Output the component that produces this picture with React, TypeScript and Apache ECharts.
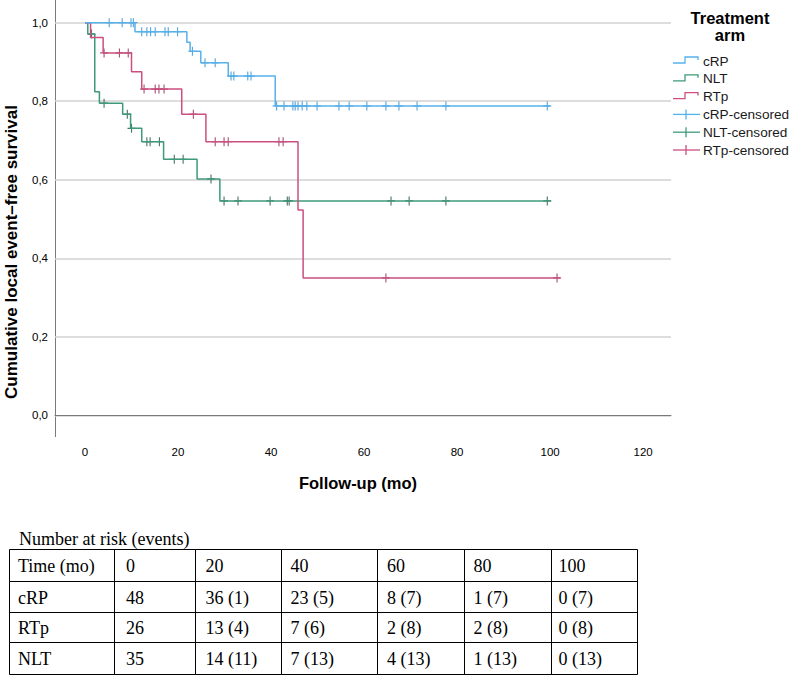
import React, { useEffect, useRef } from "react";
import * as echarts from "echarts";

// ---------- data ----------
const xTickValues = [0, 20, 40, 60, 80, 100, 120];

// cRP arm: event times and Kaplan-Meier survival after each step
const cRPTimes = [0, 10.75, 21.9, 22.6, 24.9, 30.8, 40.9, 100.0];
const cRPSurv = [1.0, 0.977, 0.95, 0.927, 0.898, 0.864, 0.788, 0.788];
const cRPCensored = [5.2, 8.0, 9.9, 10.4, 12.2, 13.3, 14.1, 15.1, 17.2, 17.9, 19.9, 23.1, 25.8, 28.0, 31.4, 32.0, 35.0, 35.7, 41.2, 42.8, 44.7, 45.2, 45.8, 46.7, 47.7, 49.9, 54.6, 56.8, 60.6, 64.7, 67.5, 71.4, 77.6, 99.4];

// NLT arm
const NLTTimes = [0, 0.6, 2.1, 3.1, 8.1, 9.8, 12.2, 16.9, 24.1, 29.0, 100.2];
const NLTSurv = [1.0, 0.971, 0.824, 0.795, 0.767, 0.731, 0.697, 0.652, 0.602, 0.546, 0.546];
const NLTCensored = [1.4, 4.1, 9.1, 10.0, 13.3, 14.0, 16.0, 19.2, 21.1, 27.1, 29.9, 32.9, 39.8, 43.5, 43.9, 65.8, 69.7, 77.6, 99.4];

// RTp arm
const RTpTimes = [0, 1.2, 3.9, 10.0, 12.2, 20.8, 26.0, 45.8, 46.9, 102.2];
const RTpSurv = [1.0, 0.962, 0.923, 0.875, 0.831, 0.767, 0.697, 0.523, 0.35, 0.35];
const RTpCensored = [4.1, 7.4, 9.3, 12.7, 15.1, 15.9, 17.0, 23.3, 28.0, 29.9, 30.8, 41.7, 42.6, 64.7, 101.5];

// Number-at-risk table
const tableTimes = [0, 20, 40, 60, 80, 100];
const cRPAtRisk = [48, 36, 23, 8, 1, 0];
const cRPEvents = [null, 1, 5, 7, 7, 7];
const RTpAtRisk = [26, 13, 7, 2, 2, 0];
const RTpEvents = [null, 4, 6, 8, 8, 8];
const NLTAtRisk = [35, 14, 7, 4, 1, 0];
const NLTEvents = [null, 11, 13, 13, 13, 13];

// ---------- helpers ----------
const pairs = (t: number[], s: number[]) => t.map((v, i) => [v, s[i]]);
const survAt = (t: number[], s: number[], x: number) => {
  let v = s[0];
  for (let i = 0; i < t.length; i++) if (t[i] <= x) v = s[i];
  return v;
};
const censorPts = (c: number[], t: number[], s: number[]) => c.map((x) => [x, survAt(t, s, x)]);

const COL = {
  cRP: "#55b2ea",
  cRPm: "#2f8ed3",
  NLT: "#3f9a7a",
  NLTm: "#1f5247",
  RTp: "#cc4f80",
  RTpm: "#8e2a58",
};

const plusSymbol = "path://M5,0 L5,10 M0,5 L10,5";

export default function App() {
  const ref = useRef<HTMLDivElement>(null);
  useEffect(() => {
    if (!ref.current) return;
    const chart = echarts.init(ref.current, null, { renderer: "svg" });

    const gridLeft = 55;
    const gridTop = 22.7;
    const gridW = 616;
    const gridH = 392.6;

    const lineSeries = (name: string, t: number[], s: number[], color: string) => ({
      name,
      type: "line",
      step: "end",
      data: pairs(t, s),
      showSymbol: false,
      symbol: "none",
      lineStyle: { color, width: 1.5 },
      itemStyle: { color },
      silent: true,
    });
    const censSeries = (name: string, c: number[], t: number[], s: number[], color: string) => ({
      name,
      type: "scatter",
      data: censorPts(c, t, s),
      symbol: plusSymbol,
      symbolSize: [8, 9],
      itemStyle: { color: "rgba(0,0,0,0)", borderColor: color, borderWidth: 1.2 },
      silent: true,
    });

    const graphics: any[] = [];
    // y axis line
    graphics.push({
      type: "line",
      shape: { x1: 55.5, y1: 0, x2: 55.5, y2: 437 },
      style: { stroke: "#7a7a7a", lineWidth: 1 },
    });
    // axis titles
    graphics.push({
      type: "text",
      x: 11,
      y: 252,
      rotation: Math.PI / 2,
      style: {
        text: "Cumulative local event–free survival",
        font: 'bold 17px "Liberation Sans", Arial, sans-serif',
        fill: "#000",
        align: "center",
        verticalAlign: "middle",
      },
    });
    graphics.push({
      type: "text",
      x: 358,
      y: 483,
      style: {
        text: "Follow-up (mo)",
        font: 'bold 16.5px "Liberation Sans", Arial, sans-serif',
        fill: "#000",
        align: "center",
        verticalAlign: "middle",
      },
    });
    // legend
    graphics.push({
      type: "text",
      x: 730,
      y: 17.5,
      style: { text: "Treatment", font: 'bold 16.5px "Liberation Sans", Arial, sans-serif', fill: "#000", align: "center", verticalAlign: "middle" },
    });
    graphics.push({
      type: "text",
      x: 730,
      y: 35,
      style: { text: "arm", font: 'bold 16.5px "Liberation Sans", Arial, sans-serif', fill: "#000", align: "center", verticalAlign: "middle" },
    });
    const legendItems = [
      { label: "cRP", color: COL.cRP, kind: "step" },
      { label: "NLT", color: COL.NLT, kind: "step" },
      { label: "RTp", color: COL.RTp, kind: "step" },
      { label: "cRP-censored", color: COL.cRP, kind: "cens" },
      { label: "NLT-censored", color: COL.NLT, kind: "cens" },
      { label: "RTp-censored", color: COL.RTp, kind: "cens" },
    ];
    legendItems.forEach((it, i) => {
      const y = 61 + 17.8 * i;
      if (it.kind === "step") {
        graphics.push({
          type: "polyline",
          shape: { points: [[673, y + 2], [685, y + 2], [685, y - 4], [698, y - 4], [698, y - 1]] },
          style: { stroke: it.color, lineWidth: 1.3, fill: null },
        });
      } else {
        graphics.push({ type: "line", shape: { x1: 673, y1: y, x2: 700, y2: y }, style: { stroke: it.color, lineWidth: 1.3 } });
        graphics.push({ type: "line", shape: { x1: 686, y1: y - 5, x2: 686, y2: y + 5 }, style: { stroke: it.color, lineWidth: 1.3 } });
      }
      graphics.push({
        type: "text",
        x: 703,
        y,
        style: { text: it.label, font: '13.6px "Liberation Sans", Arial, sans-serif', fill: "#1a1a1a", verticalAlign: "middle" },
      });
    });

    // table
    const colX = [9.5, 114.5, 195.5, 281.5, 377.5, 464.5, 551.5, 637.5];
    const rowY = [549.5, 581.5, 612.5, 642.5, 674.5];
    const textX = [18, 126, 205.5, 290.5, 387, 473.5, 558.5];
    graphics.push({
      type: "text",
      x: 19,
      y: 539,
      style: { text: "Number at risk (events)", font: '18px "Liberation Serif", "Times New Roman", serif', fill: "#000", verticalAlign: "middle" },
    });
    rowY.forEach((y) =>
      graphics.push({ type: "line", shape: { x1: colX[0], y1: y, x2: colX[colX.length - 1], y2: y }, style: { stroke: "#000", lineWidth: 1 } })
    );
    colX.forEach((x) =>
      graphics.push({ type: "line", shape: { x1: x, y1: rowY[0], x2: x, y2: rowY[rowY.length - 1] }, style: { stroke: "#000", lineWidth: 1 } })
    );
    const rows: string[][] = [
      ["Time (mo)", ...tableTimes.map((t) => String(t))],
      ["cRP", ...cRPAtRisk.map((n, i) => (cRPEvents[i] == null ? String(n) : `${n} (${cRPEvents[i]})`))],
      ["RTp", ...RTpAtRisk.map((n, i) => (RTpEvents[i] == null ? String(n) : `${n} (${RTpEvents[i]})`))],
      ["NLT", ...NLTAtRisk.map((n, i) => (NLTEvents[i] == null ? String(n) : `${n} (${NLTEvents[i]})`))],
    ];
    rows.forEach((row, r) => {
      const yc = (rowY[r] + rowY[r + 1]) / 2 + 0.5;
      row.forEach((txt, c) => {
        graphics.push({
          type: "text",
          x: textX[c],
          y: yc,
          style: { text: txt, font: '18px "Liberation Serif", "Times New Roman", serif', fill: "#000", verticalAlign: "middle" },
        });
      });
    });

    chart.setOption({
      animation: false,
      backgroundColor: "#fff",
      grid: { left: gridLeft, top: gridTop, width: gridW, height: gridH, containLabel: false },
      xAxis: {
        type: "value",
        min: -6.45,
        max: 126,
        offset: 21.7,
        axisLine: { show: true, lineStyle: { color: "#7a7a7a", width: 1 } },
        axisTick: { show: false },
        splitLine: { show: false },
        axisLabel: {
          customValues: xTickValues,
          margin: 9,
          color: "#000",
          fontSize: 11.5,
          fontFamily: '"Liberation Sans", Arial, sans-serif',
        },
      },
      yAxis: {
        type: "value",
        min: 0,
        max: 1,
        interval: 0.2,
        axisLine: { show: false },
        axisTick: { show: false },
        splitLine: { show: true, lineStyle: { color: "#d2d2d2", width: 1.5 } },
        axisLabel: {
          margin: 7,
          color: "#000",
          fontSize: 11.5,
          fontFamily: '"Liberation Sans", Arial, sans-serif',
          formatter: (v: number) => v.toFixed(1).replace(".", ","),
        },
      },
      series: [
        lineSeries("NLT", NLTTimes, NLTSurv, COL.NLT),
        lineSeries("RTp", RTpTimes, RTpSurv, COL.RTp),
        lineSeries("cRP", cRPTimes, cRPSurv, COL.cRP),
        censSeries("NLT-censored", NLTCensored, NLTTimes, NLTSurv, COL.NLTm),
        censSeries("RTp-censored", RTpCensored, RTpTimes, RTpSurv, COL.RTpm),
        censSeries("cRP-censored", cRPCensored, cRPTimes, cRPSurv, COL.cRPm),
      ],
      graphic: graphics,
    });
    return () => chart.dispose();
  }, []);
  return <div ref={ref} style={{ position: "absolute", left: 0, top: 0, width: 793, height: 676 }} />;
}
